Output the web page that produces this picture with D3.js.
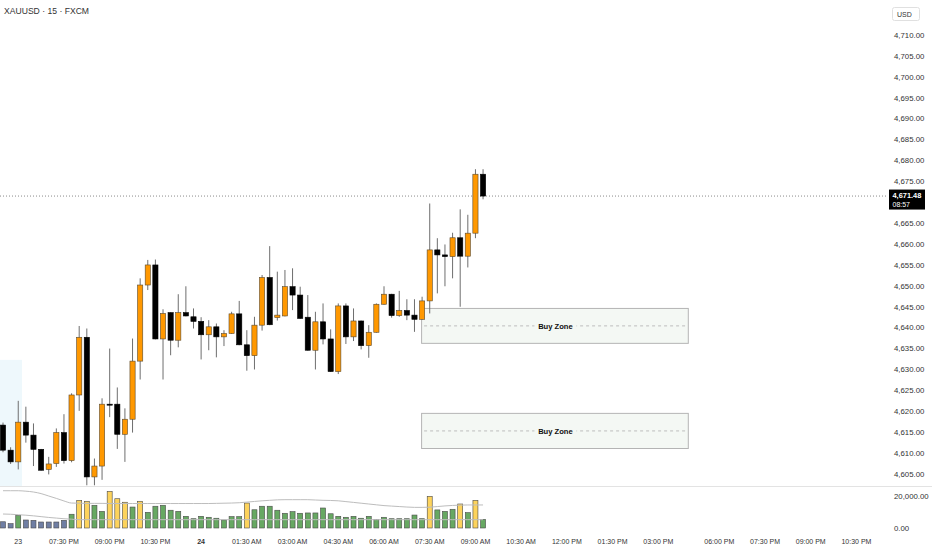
<!DOCTYPE html>
<html>
<head>
<meta charset="utf-8">
<script src="https://cdn.jsdelivr.net/npm/d3@7"></script>
<style>
  body { margin: 0; background: #fff; }
  svg { display: block; font-family: "Liberation Sans", Arial, sans-serif; }
</style>
</head>
<body>
<div id="chart"></div>
<script>
// XAUUSD 15m bars, oldest first (index 0 = 17:30 on the 23rd session)
const opens  = [4616.7,4610.7,4607.9,4617.4,4614.3,4610.9,4606.1,4607.5,4614.9,4608.2,
                4623.9,4637.7,4604.3,4606.9,4621.7,4621.7,4614.5,4618.1,4632.0,4650.2,
                4655.0,4637.3,4643.6,4637.0,4643.6,4642.6,4641.5,4638.3,4640.2,4637.8,
                4638.6,4643.3,4635.9,4633.3,4640.6,4652.0,4642.4,4642.8,4649.8,4647.8,
                4642.5,4634.6,4641.4,4637.3,4629.5,4645.2,4637.8,4641.6,4635.7,4638.9,
                4645.6,4648.0,4642.9,4644.1,4643.0,4642.0,4646.4,4658.6,4657.4,4657.0,
                4661.5,4657.1,4662.6,4676.7];
const highs  = [4617.3,4611.4,4622.5,4621.1,4617.1,4611.0,4609.1,4615.9,4619.3,4624.3,
                4640.4,4639.8,4608.7,4623.1,4635.0,4625.7,4620.7,4637.4,4651.8,4656.2,
                4656.3,4644.4,4643.7,4648.0,4649.9,4644.6,4642.5,4641.8,4641.0,4639.4,
                4643.8,4646.4,4639.4,4642.6,4652.6,4659.5,4653.4,4653.8,4654.2,4649.8,
                4647.8,4643.8,4645.8,4639.6,4645.8,4645.8,4644.6,4641.7,4640.6,4645.8,
                4649.9,4648.1,4648.8,4646.8,4646.8,4647.4,4669.7,4661.4,4659.9,4662.7,
                4668.3,4667.0,4677.9,4677.9];
const lows   = [4610.2,4607.4,4606.1,4612.5,4606.9,4605.8,4604.9,4606.7,4607.5,4607.8,
                4620.1,4602.3,4602.3,4603.6,4618.6,4611.0,4607.9,4614.9,4627.6,4649.0,
                4637.2,4627.6,4633.4,4635.3,4642.7,4639.8,4632.4,4634.6,4632.9,4635.6,
                4638.5,4635.8,4629.7,4630.0,4639.3,4640.6,4641.7,4642.7,4644.2,4642.1,
                4634.5,4630.0,4636.0,4629.4,4628.9,4636.1,4636.8,4634.8,4632.8,4638.8,
                4645.5,4642.4,4642.6,4641.8,4639.0,4641.9,4643.4,4648.2,4649.9,4651.8,
                4645.0,4654.4,4661.4,4670.7];
const closes = [4610.7,4607.9,4617.4,4614.3,4610.9,4605.9,4607.4,4614.9,4608.2,4623.9,
                4637.7,4604.3,4606.9,4621.7,4621.6,4614.5,4618.1,4632.0,4650.2,4655.0,
                4637.3,4643.4,4637.0,4643.6,4642.8,4641.5,4638.3,4640.2,4637.8,4638.6,
                4643.3,4635.9,4633.3,4640.6,4652.0,4640.7,4643.0,4649.8,4647.8,4642.2,
                4634.6,4641.4,4637.3,4629.5,4645.2,4637.8,4641.6,4635.7,4638.9,4645.6,
                4648.0,4642.9,4644.1,4643.0,4642.0,4646.4,4658.6,4657.4,4657.0,4661.5,
                4657.1,4662.6,4676.7,4671.48];

const volumes = [3900,2700,7900,5000,4800,3750,3750,3750,4800,8600,
                 17300,16700,14200,10400,22900,18300,16100,13100,16700,9800,
                 13600,14200,11100,10400,7300,5800,7300,6700,6100,5000,
                 7100,7100,15600,11400,13600,13600,11100,9200,10200,9200,
                 9400,9400,12500,8900,7300,6700,7300,6100,7300,5200,
                 6700,5800,5800,5800,8100,5800,19800,11300,10400,11700,
                 15000,9600,17300,5400];
// b = pre-session, g = normal, y = high volume
const volKinds = ['b','b','g','b','b','b','b','b','b','g',
                  'y','y','g','g','y','y','y','g','y','g',
                  'g','g','g','g','g','g','g','g','g','g',
                  'g','g','y','g','g','g','g','g','g','g',
                  'g','g','g','g','g','g','g','g','g','g',
                  'g','g','g','g','g','g','y','g','g','g',
                  'y','g','y','g'];
const volMaSlow = [23300,23300,23300,23000,22500,21500,20000,18500,16900,15600,
                   15500,15400,15400,15400,15300,15300,15300,15300,15300,15300,
                   15300,15300,15300,15300,15300,15300,15300,15300,15400,15500,
                   15600,15800,16200,16600,17000,17300,17600,17700,17700,17700,
                   17700,17500,17300,17200,17000,16500,16000,15500,15000,14500,
                   14000,13700,13400,13100,12900,12900,13000,13400,13800,14100,
                   14300,14400,14400,14400];
const volMaFast = [8750,8600,8300,8000,7600,7100,6600,6200,5800,5500,
                   5200,5200,5200,5200,5200,5200,5200,5200,5200,5200,
                   5200,5200,5200,5200,5200,5200,5200,5200,5200,5200,
                   5200,5200,5200,5200,5200,5200,5200,5200,5200,5200,
                   5200,5200,5200,5200,5200,5200,5200,5200,5200,5200,
                   5200,5200,5200,5200,5200,5200,5200,5200,5200,5200,
                   5200,5200,5200,5200];

// time axis labels and the bar index they sit on
const timeTickIdx  = [2, 8, 14, 20, 26, 32, 38, 44, 50, 56, 62, 68, 74, 80, 86, 94, 100, 106, 112];
const timeTickText = ['23','07:30 PM','09:00 PM','10:30 PM','24','01:30 AM','03:00 AM','04:30 AM',
                      '06:00 AM','07:30 AM','09:00 AM','10:30 AM','12:00 PM','01:30 PM','03:00 PM',
                      '06:00 PM','07:30 PM','09:00 PM','10:30 PM'];
const boldTicks = ['24'];

const priceTicks = d3.range(4605, 4711, 5);
const volTicks = [0, 20000];

// drawn zones
const zoneTop    = [4644.6, 4619.5];
const zoneBottom = [4636.25, 4611.1];
const zoneStart = 55, zoneEnd = 90;
const zoneLabel = 'Buy Zone';
const sessionShadeTop = 4632.3, sessionShadeEnd = 2.5;

const lastPrice = 4671.48;
const countdown = '08:57';

const WIDTH = 932;
const HEIGHT = 550;
const PLOT_RIGHT = 888;
const PANE_SPLIT = 486;
const AXIS_X = 894;

const fmtPrice = d3.format(',.2f');

const svg = d3.select('#chart')
  .append('svg')
  .attr('width', WIDTH)
  .attr('height', HEIGHT);

const x = d3.scaleLinear().domain([0, 116]).range([3, 3 + 7.62 * 116]);
const y = d3.scaleLinear().domain([4605, 4710]).range([474, 35]);
const yVol = d3.scaleLinear().domain([0, 20000]).range([528, 496]);

svg.append('clipPath').attr('id', 'priceClip')
  .append('rect').attr('x', 0).attr('y', 0).attr('width', PLOT_RIGHT).attr('height', PANE_SPLIT);

const price = svg.append('g').attr('clip-path', 'url(#priceClip)');

// session shading on the far left
price.append('rect')
  .attr('x', 0)
  .attr('y', y(sessionShadeTop))
  .attr('width', x(sessionShadeEnd))
  .attr('height', PANE_SPLIT - y(sessionShadeTop))
  .attr('fill', '#eef8fc');

// buy zones
const zones = price.selectAll('.zone')
  .data(zoneTop.map((t, i) => ({ top: t, bottom: zoneBottom[i] })))
  .enter()
  .append('g')
  .attr('class', 'zone');

zones.append('rect')
  .attr('x', x(zoneStart) - 0.5)
  .attr('y', d => y(d.top))
  .attr('width', x(zoneEnd) - x(zoneStart))
  .attr('height', d => y(d.bottom) - y(d.top))
  .attr('fill', '#f4f8f4')
  .attr('stroke', '#b4b4b4')
  .attr('stroke-width', 1);

zones.append('line')
  .attr('x1', x(zoneStart) + 2)
  .attr('x2', x(zoneEnd) - 2)
  .attr('y1', d => y((d.top + d.bottom) / 2))
  .attr('y2', d => y((d.top + d.bottom) / 2))
  .attr('stroke', '#bdbdbd')
  .attr('stroke-dasharray', '3,3');

zones.append('rect')
  .attr('x', (x(zoneStart) + x(zoneEnd)) / 2 - 21)
  .attr('y', d => y((d.top + d.bottom) / 2) - 5)
  .attr('width', 42)
  .attr('height', 10)
  .attr('fill', '#f4f8f4');

zones.append('text')
  .attr('x', (x(zoneStart) + x(zoneEnd)) / 2)
  .attr('y', d => y((d.top + d.bottom) / 2) + 2.7)
  .attr('text-anchor', 'middle')
  .attr('font-size', '7.6px')
  .attr('font-weight', 'bold')
  .attr('fill', '#111')
  .text(zoneLabel);

// last price dotted line
price.append('line')
  .attr('x1', 0)
  .attr('x2', PLOT_RIGHT)
  .attr('y1', y(lastPrice))
  .attr('y2', y(lastPrice))
  .attr('stroke', '#8a8a8a')
  .attr('stroke-dasharray', '1,2');

// candles
const bars = d3.range(opens.length).map(i => ({
  i, o: opens[i], h: highs[i], l: lows[i], c: closes[i]
}));

price.selectAll('.wick')
  .data(bars)
  .enter()
  .append('line')
  .attr('class', 'wick')
  .attr('x1', d => x(d.i))
  .attr('x2', d => x(d.i))
  .attr('y1', d => y(d.h))
  .attr('y2', d => y(d.l))
  .attr('stroke', '#6e6e6e')
  .attr('stroke-width', 1);

price.selectAll('.body')
  .data(bars)
  .enter()
  .append('rect')
  .attr('class', 'body')
  .attr('x', d => x(d.i) - 2.6)
  .attr('y', d => y(Math.max(d.o, d.c)))
  .attr('width', 5.2)
  .attr('height', d => Math.max(1, Math.abs(y(d.o) - y(d.c))))
  .attr('fill', d => d.c >= d.o ? '#ff9800' : '#000')
  .attr('stroke', d => d.c >= d.o ? '#5a4a30' : '#000')
  .attr('stroke-width', 0.6);

// pane separator
svg.append('line')
  .attr('x1', 0).attr('x2', WIDTH)
  .attr('y1', PANE_SPLIT + 0.5).attr('y2', PANE_SPLIT + 0.5)
  .attr('stroke', '#e3e3e3');

// volume pane
const volColors = { b: '#6f7ea3', g: '#67a862', y: '#fdd35c' };
const vol = svg.append('g');

vol.selectAll('.vbar')
  .data(volumes)
  .enter()
  .append('rect')
  .attr('class', 'vbar')
  .attr('x', (d, i) => x(i) - 2.5)
  .attr('y', d => yVol(d))
  .attr('width', 5)
  .attr('height', d => yVol(0) - yVol(d))
  .attr('fill', (d, i) => volColors[volKinds[i]])
  .attr('stroke', '#4a4a4a')
  .attr('stroke-width', 0.6);

const maLine = d3.line()
  .x((d, i) => x(i))
  .y(d => yVol(d))
  .curve(d3.curveMonotoneX);

[volMaSlow, volMaFast].forEach(series => {
  vol.append('path')
    .attr('d', maLine(series))
    .attr('fill', 'none')
    .attr('stroke', '#bdbdbd')
    .attr('stroke-width', 1);
});

// price axis (the tick under the last price tag is hidden, as on the original)
const tagY = y(lastPrice) - 6.5;
svg.selectAll('.ptick')
  .data(priceTicks.filter(d => Math.abs(y(d) - (tagY + 10)) > 11))
  .enter()
  .append('text')
  .attr('class', 'ptick')
  .attr('x', AXIS_X)
  .attr('y', d => y(d) + 2.8)
  .attr('font-size', '7.8px')
  .attr('fill', '#333')
  .text(d => fmtPrice(d));

svg.selectAll('.vtick')
  .data(volTicks)
  .enter()
  .append('text')
  .attr('class', 'vtick')
  .attr('x', AXIS_X)
  .attr('y', d => yVol(d) + 2.8)
  .attr('font-size', '7.8px')
  .attr('fill', '#333')
  .text(d => fmtPrice(d));

// last price tag
svg.append('rect')
  .attr('x', 889).attr('y', tagY)
  .attr('width', 36).attr('height', 20)
  .attr('fill', '#000');
svg.append('text')
  .attr('x', 892.5).attr('y', tagY + 8.2)
  .attr('font-size', '7.4px').attr('font-weight', 'bold')
  .attr('fill', '#fff')
  .text(fmtPrice(lastPrice));
svg.append('text')
  .attr('x', 892.5).attr('y', tagY + 17)
  .attr('font-size', '7px')
  .attr('fill', '#fff')
  .text(countdown);

// currency box
svg.append('rect')
  .attr('x', 892.5).attr('y', 7.5)
  .attr('width', 27).attr('height', 13)
  .attr('rx', 2)
  .attr('fill', '#fff')
  .attr('stroke', '#e0e0e0');
svg.append('text')
  .attr('x', 897).attr('y', 16.5)
  .attr('font-size', '7px')
  .attr('fill', '#333')
  .text('USD');

// time axis
svg.selectAll('.ttick')
  .data(timeTickIdx)
  .enter()
  .append('text')
  .attr('class', 'ttick')
  .attr('x', d => x(d))
  .attr('y', 543.5)
  .attr('text-anchor', 'middle')
  .attr('font-size', '7px')
  .attr('font-weight', (d, i) => boldTicks.includes(timeTickText[i]) ? 'bold' : 'normal')
  .attr('fill', '#333')
  .text((d, i) => timeTickText[i]);

// title
svg.append('text')
  .attr('x', 4).attr('y', 14)
  .attr('font-size', '8.6px')
  .attr('fill', '#333')
  .text('XAUUSD · 15 · FXCM');
</script>
</body>
</html>
